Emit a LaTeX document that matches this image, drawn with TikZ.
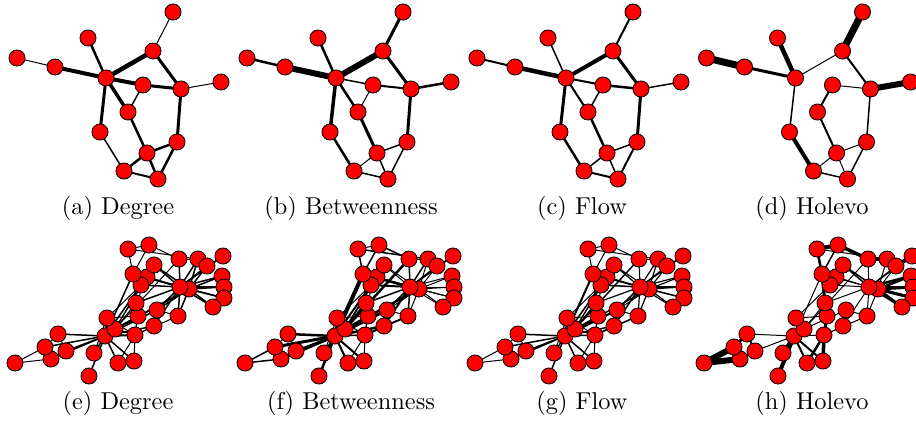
\documentclass[tikz,border=0pt]{standalone}
\usetikzlibrary{backgrounds}
\newcommand\topnodes[2]{%
  \foreach \n/\px/\py in {1/173/12,2/88/38,3/153/51,4/17/58,5/55/67,6/106/78,7/143/85,8/181/89,9/221/82,10/128/112,11/100/132,12/177/142,13/147/153,14/124/171,15/158/179}
    {\node[vtx] (#1\n) at ({#2+\px},\py) {};}}
\newcommand\kknodes[2]{%
  \foreach \n/\px/\py in {0/105/336,1/135/335,2/115/329,3/107/318,4/58/334,5/51/359,6/45/347,7/138/316,8/157/310,9/147/277,10/66/351,11/89/376,12/94/353,13/141/285,14/222/276,15/224/287,16/15/363,17/118/363,18/224/298,19/154/326,20/213/307,21/134/361,22/154/265,23/198/259,24/149/245,25/128/249,26/223/256,27/179/259,28/136/303,29/207/266,30/178/316,31/133/274,32/189/289,33/180/287}
    {\node[vtx] (#1\n) at ({#2+\px},\py) {};}}
\newcommand\drawedges[2]{%
  \begin{scope}[on background layer]
  \foreach \u/\v/\w in {#2}{\draw[line width=\w*0.41pt] (#1\u.center) -- (#1\v.center);}
  \end{scope}}
\begin{document}
\begin{tikzpicture}[x=0.41pt,y=-0.41pt,
  vtx/.style={circle,draw=black,fill=red,line width=0.35pt,minimum size=6.6pt,inner sep=0pt},
  captext/.style={anchor=base,font=\fontsize{10}{12}\selectfont}]
\useasboundingbox (0,0) rectangle (916,421);
% ---------- top row ----------
\topnodes{a}{0}
\topnodes{b}{230}
\topnodes{c}{460}
\topnodes{d}{689.5}
\drawedges{a}{1/3/1,2/6/2.5,3/6/4.5,3/8/3,4/5/1,5/6/4,6/7/4,6/10/3.5,6/11/3,7/8/3,7/10/1.5,8/9/1,8/12/3,10/13/2.5,11/14/1.5,12/13/2.5,12/15/2.5,13/14/2.5,13/15/2.5,14/15/2}
\drawedges{b}{1/3/3,2/6/2.5,3/6/6,3/8/3,4/5/2.5,5/6/6,6/7/1.5,6/10/2.5,6/11/3.5,7/8/2,7/10/1,8/9/2.5,8/12/3,10/13/3,11/14/2.5,12/13/1.5,12/15/1.5,13/14/1,13/15/1.5,14/15/1.5}
\drawedges{c}{1/3/2,2/6/1.5,3/6/4,3/8/3,4/5/2,5/6/4.5,6/7/2,6/10/2,6/11/3,7/8/2.5,7/10/1.5,8/9/1.5,8/12/3,10/13/2.5,11/14/2.5,12/13/1.5,12/15/2,13/14/1.5,13/15/1.5,14/15/2}
\drawedges{d}{1/3/7,2/6/4.5,3/6/1,3/8/2,4/5/7,5/6/3,6/11/1.5,7/8/1,7/10/2,8/9/6,8/12/1.5,10/13/2,11/14/4,12/13/1,12/15/1.5,13/14/1,13/15/1,14/15/1.5}
% ---------- bottom row ----------
\kknodes{e}{0}
\kknodes{f}{230}
\kknodes{g}{460}
\kknodes{h}{689}
\drawedges{e}{0/1/2,0/2/2,0/3/1.5,0/4/1.5,0/5/1.5,0/6/1.5,0/7/1.5,0/8/1.5,0/10/1.5,0/11/1.5,0/12/1.5,0/13/1.5,0/17/1.5,0/19/1.5,0/21/1.5,0/31/1.5,
1/2/1.5,1/3/1,1/7/1,1/13/1,1/17/1,1/19/1,1/21/1,1/30/1,
2/3/1,2/7/1,2/8/1,2/9/1,2/13/1,2/27/1,2/28/1,2/32/2,
3/7/1,3/12/1,3/13/1,4/6/1,4/10/1,5/6/1,5/10/1,5/16/1,6/16/1,
8/30/1,8/32/1.5,8/33/1.5,9/33/1.5,13/33/1.5,
14/32/1.5,14/33/1.5,15/32/1.5,15/33/1.5,18/32/1.5,18/33/1.5,19/33/1.5,20/32/1.5,20/33/1.5,22/32/1.5,22/33/1.5,
23/25/1,23/27/1,23/29/1,23/32/1.5,23/33/1.5,24/25/1,24/27/1,24/31/1,25/31/1,
26/29/1,26/33/1.5,27/33/1.5,28/31/1,28/33/1.5,29/32/1.5,29/33/1.5,30/32/1.5,30/33/1.5,31/32/1.5,31/33/1.5,32/33/2}
\drawedges{f}{0/1/1.5,0/2/3,0/3/1.5,0/4/2.5,0/5/3,0/6/3,0/7/1.5,0/8/3,0/10/2.5,0/11/2.5,0/12/2,0/13/2,0/17/2,0/19/2.5,0/21/2,0/31/4,
1/2/1,1/3/1,1/7/1,1/13/1,1/17/1,1/19/1,1/21/1,1/30/2,
2/3/1,2/7/1,2/8/1,2/9/1.5,2/13/1,2/27/2.5,2/28/2.5,2/32/2.5,
3/7/1,3/12/1,3/13/1,4/6/1,4/10/1,5/6/1,5/10/1,5/16/1.5,6/16/1.5,
8/30/1,8/32/1,8/33/1.5,9/33/1,13/33/2,
14/32/1,14/33/1,15/32/1,15/33/1,18/32/1,18/33/1,19/33/2,20/32/1,20/33/1,22/32/1,22/33/1,
23/25/1.5,23/27/1,23/29/1,23/32/1,23/33/1.5,24/25/1,24/27/1.5,24/31/1.5,25/31/1.5,
26/29/1,26/33/1.5,27/33/1.5,28/31/1,28/33/1.5,29/32/1,29/33/1.5,30/32/1,30/33/1.5,31/32/2,31/33/2.5,32/33/1}
\drawedges{g}{0/1/1.5,0/2/2,0/3/1.5,0/4/1.5,0/5/1.5,0/6/1.5,0/7/1.5,0/8/2,0/10/1.5,0/11/1.5,0/12/1.5,0/13/1.5,0/17/1.5,0/19/1.5,0/21/1.5,0/31/2,
1/2/1,1/3/1,1/7/1,1/13/1,1/17/1,1/19/1,1/21/1,1/30/1.5,
2/3/1,2/7/1,2/8/1,2/9/1,2/13/1,2/27/1.5,2/28/1.5,2/32/1.5,
3/7/1,3/12/1,3/13/1,4/6/1,4/10/1,5/6/1,5/10/1,5/16/1,6/16/1,
8/30/1,8/32/1,8/33/1.5,9/33/1,13/33/1.5,
14/32/1.2,14/33/1.2,15/32/1.2,15/33/1.2,18/32/1.2,18/33/1.2,19/33/1.5,20/32/1.2,20/33/1.2,22/32/1.2,22/33/1.2,
23/25/1,23/27/1,23/29/1,23/32/1.2,23/33/1.2,24/25/1,24/27/1,24/31/1,25/31/1,
26/29/1,26/33/1.2,27/33/1.2,28/31/1,28/33/1.2,29/32/1.2,29/33/1.2,30/32/1.2,30/33/1.2,31/32/1.5,31/33/1.5,32/33/1.5}
\drawedges{h}{0/1/1,0/4/1,0/10/1,0/11/4,0/12/3.5,0/17/2,0/21/2,0/31/1,
1/7/3,1/17/2.5,1/21/3.5,1/30/1,1/19/1,
2/3/1,2/8/1,2/27/1,2/28/1,3/7/1,3/13/1,
4/6/3,4/10/2,5/6/3,5/10/2,5/16/6,6/16/6,
8/30/1,9/33/1,13/33/1,19/33/1,
14/32/2.5,14/33/2.5,15/32/3,15/33/2.5,18/32/3,18/33/2.5,20/32/2.5,20/33/2,22/32/1.5,22/33/1.5,
23/25/1,23/27/3.5,23/29/1.5,23/32/1,24/25/4,24/27/3.5,24/31/1.5,25/31/2.5,
26/29/4,26/33/1,27/33/1,28/31/3,28/33/1,29/32/1,29/33/1,30/32/1,30/33/1,31/33/1,32/33/1}
% ---------- captions ----------
\node[captext] (capa) at (118,214) {(a) Degree};
\node[captext] (capb) at (351,214) {(b) Betweenness};
\node[captext] (capc) at (582,214) {(c) Flow};
\node[captext] (capd) at (812,214) {(d) Holevo};
\node[captext] (cape) at (118,409) {(e) Degree};
\node[captext] (capf) at (351,409) {(f) Betweenness};
\node[captext] (capg) at (582,409) {(g) Flow};
\node[captext] (caph) at (812,409) {(h) Holevo};
\end{tikzpicture}
\end{document}
